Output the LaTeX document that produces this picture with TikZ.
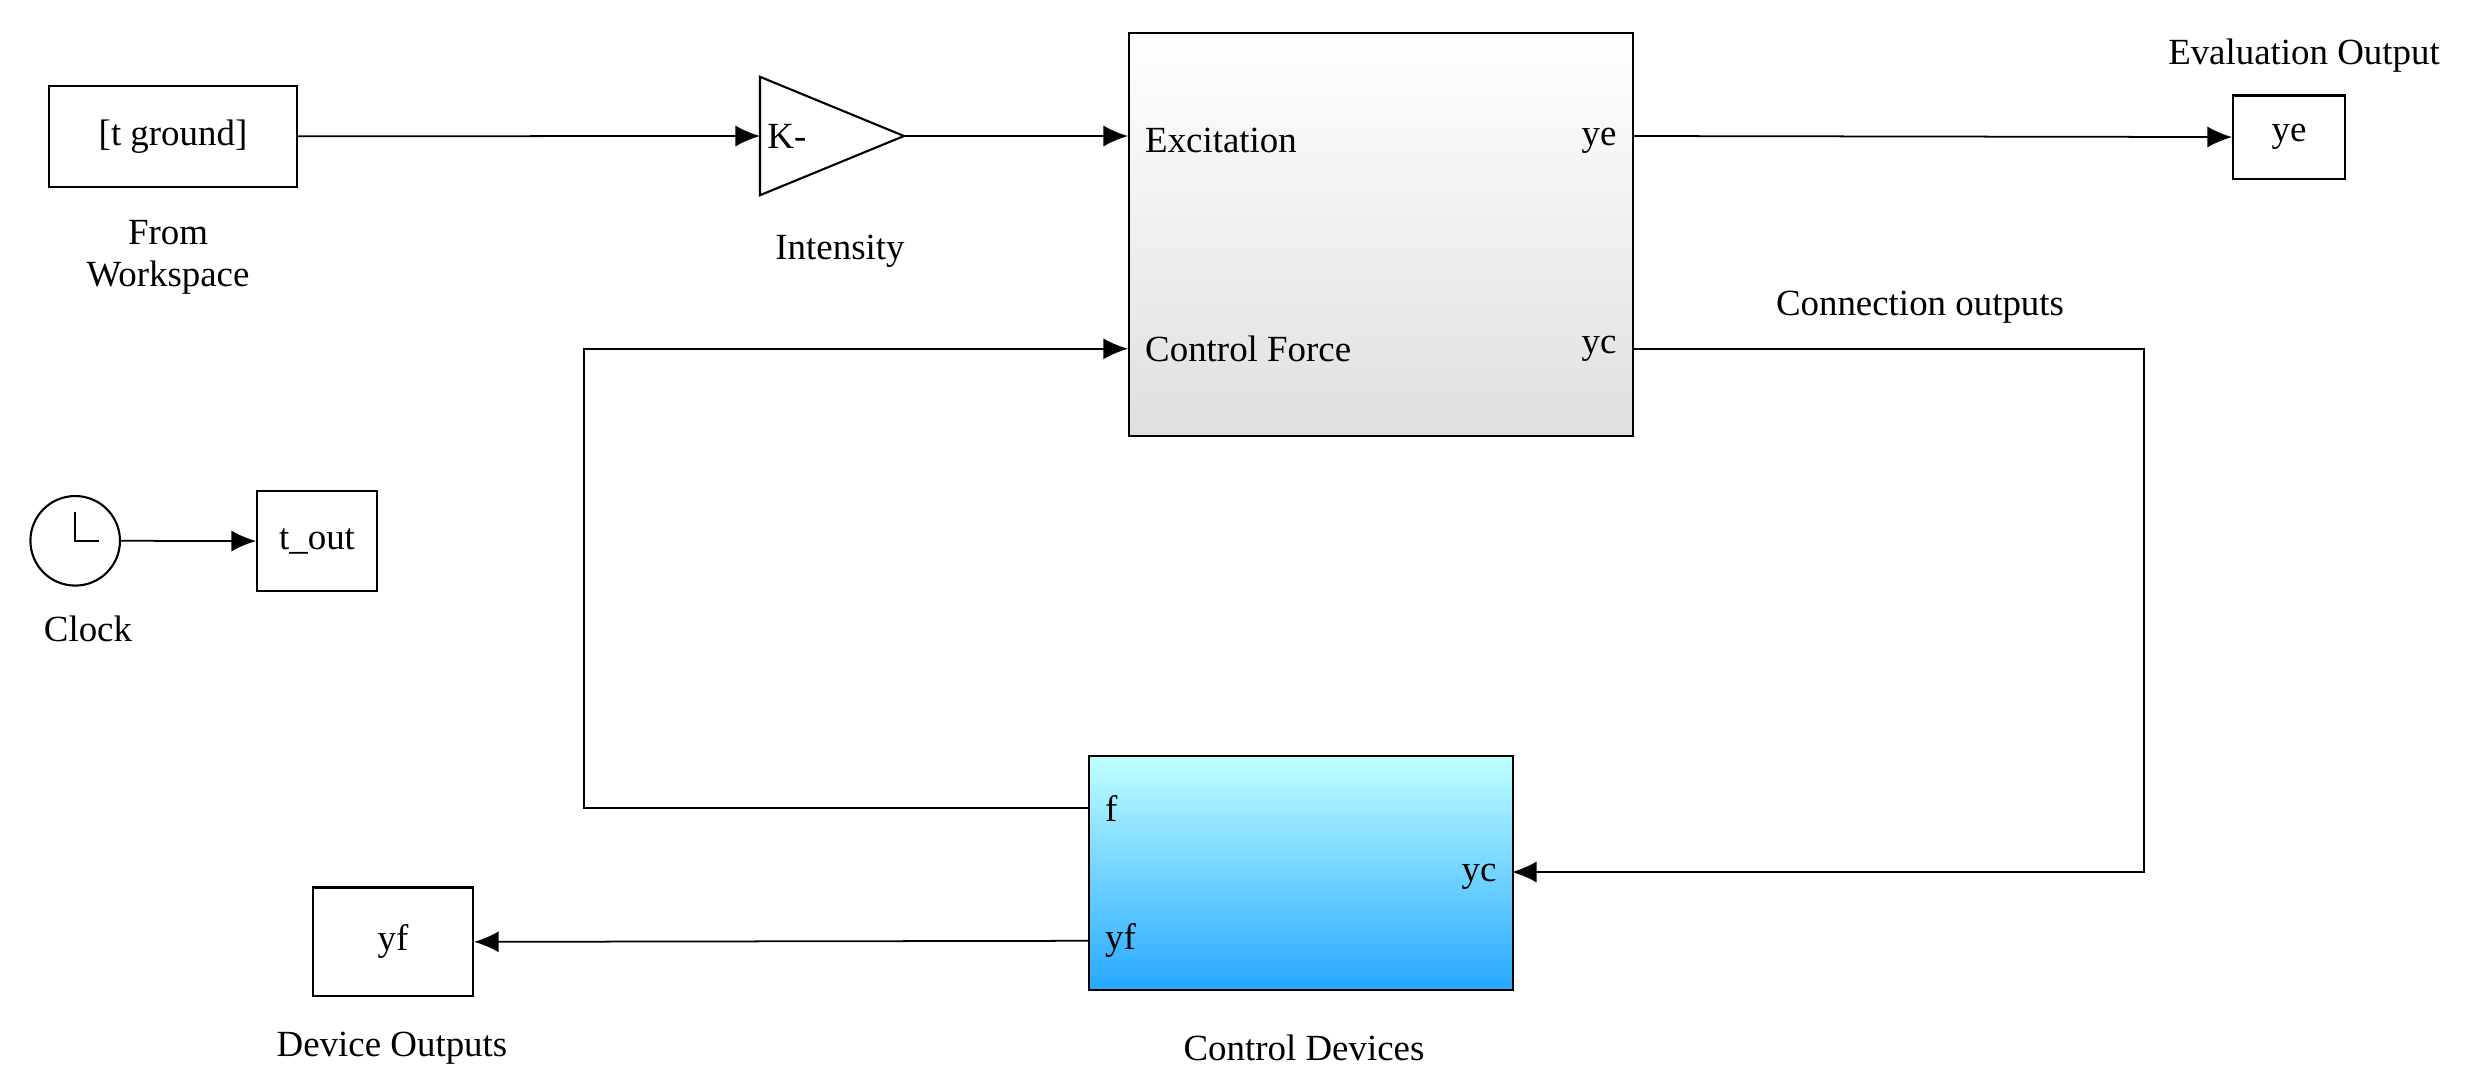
\documentclass[tikz,border=0pt]{standalone}
\usepackage{fontspec}
\setmainfont{Liberation Serif}
\usetikzlibrary{arrows.meta}
\begin{document}
\begin{tikzpicture}[x=0.016cm,y=-0.016cm,
  lab/.style={font=\fontsize{10.5}{12}\selectfont},
  blk/.style={draw,line width=0.6pt,fill=white},
  con/.style={line width=0.5pt},
  arr/.style={con,-{Latex[length=7pt,width=6pt]}}]
\useasboundingbox (0,0) rectangle (1553.75,678.75);
\node[blk,minimum width=155*0.16mm,minimum height=63*0.16mm,lab,anchor=north west] (tg) at (30,53) {[t ground]};
\node[lab,align=center,anchor=north] (tgl) at (105,130) {From\\Workspace};
\coordinate (kin) at (475,85); \coordinate (kout) at (565,85);
\draw[line width=0.6pt,fill=white] (475,48) -- (565,85) -- (475,122) -- cycle;
\node[lab,anchor=west,inner sep=1pt] (kt) at (477,85) {K-};
\node[lab] (kl) at (525,157) {Intensity};
\node[draw,line width=0.6pt,top color=white,bottom color=gray!25,minimum width=315*0.16mm,minimum height=252*0.16mm,anchor=north west] (sys) at (705,20) {};
\node[lab,anchor=west] (ex) at (708,88) {Excitation};
\node[lab,anchor=east] (ye1) at (1018,88) {ye};
\node[lab,anchor=west] (cf) at (708,218) {Control Force};
\node[lab,anchor=east] (yc1) at (1018,218) {yc};
\node[blk,minimum width=70*0.16mm,minimum height=52*0.16mm,lab,anchor=north west] (ye) at (1395,59) {ye};
\node[lab] (eo) at (1440,35) {Evaluation Output};
\node[lab] (co) at (1200,192) {Connection outputs};
\node[draw,line width=0.6pt,top color=cyan!25,bottom color=cyan!60!blue!85,minimum width=265*0.16mm,minimum height=146*0.16mm,anchor=north west] (dev) at (680,472) {};
\node[lab,anchor=west] (f) at (683,505) {f};
\node[lab,anchor=east] (yc2) at (943,548) {yc};
\node[lab,anchor=west] (yf2) at (683,588) {yf};
\node[lab] (cdl) at (815,655) {Control Devices};
\node[blk,minimum width=100*0.16mm,minimum height=68*0.16mm,lab,anchor=north west] (yf) at (195,554) {yf};
\node[lab] (dol) at (245,655) {Device Outputs};
\node[draw,circle,line width=0.6pt,minimum size=56*0.16mm,inner sep=0] (clk) at (47,338) {};
\draw[line width=0.6pt] (47,320) -- (47,338) -- (62,338);
\node[lab] (clkl) at (55,393) {Clock};
\node[blk,minimum width=75*0.16mm,minimum height=63*0.16mm,lab,anchor=north west,inner sep=1pt] (tout) at (160,306) {t\_out};
\coordinate (c1) at (1340,218); \coordinate (c2) at (1340,545);
\coordinate (c3) at (365,505); \coordinate (c4) at (365,218);
\coordinate (sx) at (705,85); \coordinate (sf) at (705,218);
\coordinate (so) at (1020,85); \coordinate (sc) at (1020,218);
\coordinate (dc) at (945,545); \coordinate (df) at (680,505); \coordinate (dy) at (680,588);
\draw[arr] (tg.east) -- (kin);
\draw[arr] (kout) -- (sx);
\draw[arr] (so) -- (ye.west);
\draw[arr] (sc) -- (c1) -- (c2) -- (dc);
\draw[arr] (df) -- (c3) -- (c4) -- (sf);
\draw[arr] (dy) -- (yf.east);
\draw[arr] (clk.east) -- (tout.west);
\end{tikzpicture}
\end{document}
